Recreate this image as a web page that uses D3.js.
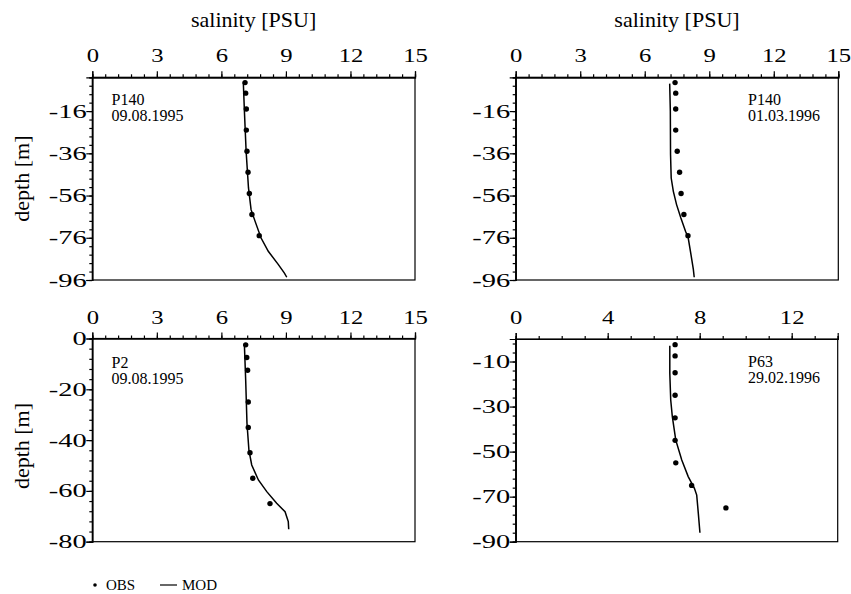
<!DOCTYPE html>
<html>
<head>
<meta charset="UTF-8">
<title>salinity profiles</title>
<style>
  body { margin: 0; background: #fff; }
  svg text { font-family: "Liberation Serif", "Times New Roman", serif; fill: #000; }
  .axis path, .axis line { stroke: #000; stroke-width: 1.2px; }
  .axis text { font-size: 19px; font-family: "Liberation Serif", "Times New Roman", serif; }
  .mod { fill: none; stroke: #000; stroke-width: 1.5px; }
</style>
</head>
<body>
<script src="https://d3js.org/d3.v7.min.js"></script>
<script>
// observed depths [m]
var obsDepth9 = [-2.5, -7.5, -15, -25, -35, -45, -55, -65, -75];
var obsDepthP2 = [-2.5, -7.5, -12.5, -25, -35, -45, -55, -65];

// P140 09.08.1995
var obsP140a = [7.10, 7.13, 7.16, 7.16, 7.19, 7.24, 7.30, 7.42, 7.76];
var modDepthP140a = [-2.5, -16, -35, -52.4, -62.7, -68, -76, -82.4, -88.7, -92.7, -94.7];
var modP140a = [7.02, 7.07, 7.15, 7.26, 7.38, 7.56, 7.84, 8.18, 8.65, 8.93, 9.04];

// P140 01.03.1996
var obsP140b = [7.41, 7.44, 7.44, 7.44, 7.51, 7.62, 7.69, 7.82, 8.01];
var modDepthP140b = [-3, -16, -36.7, -47.7, -54, -60.3, -66.6, -73, -76, -84, -91, -94.7];
var modP140b = [7.16, 7.19, 7.20, 7.23, 7.33, 7.48, 7.68, 7.90, 8.02, 8.15, 8.26, 8.30];

// P2 09.08.1995
var obsP2 = [7.13, 7.18, 7.22, 7.25, 7.25, 7.33, 7.46, 8.26];
var modDepthP2 = [-2.5, -16.4, -33.4, -44, -49.8, -55.7, -60.3, -64.9, -68.2, -72.1, -75.1];
var modP2 = [7.07, 7.13, 7.19, 7.28, 7.41, 7.72, 8.11, 8.57, 8.96, 9.11, 9.13];

// P63 29.02.1996
var obsP63 = [6.93, 6.93, 6.93, 6.93, 6.93, 6.93, 6.96, 7.65, 9.14];
var modDepthP63 = [-3, -15.2, -27.1, -34.5, -44.9, -53.7, -61.1, -66.3, -69.3, -77.4, -86];
var modP63 = [6.70, 6.70, 6.74, 6.81, 6.96, 7.22, 7.50, 7.77, 7.87, 7.94, 8.01];

// tick labels
var xTicks15 = [0, 3, 6, 9, 12, 15];
var xTicks14 = [0, 4, 8, 12];
var yTicks96 = [-96, -76, -56, -36, -16];
var yTicks80 = [-80, -60, -40, -20, 0];
var yTicks90 = [-90, -70, -50, -30, -10];

var svg = d3.select("body").append("svg")
    .attr("width", 851)
    .attr("height", 594);

var panels = [
  {x: 92.3, y: 77.3, w: 322.7, h: 202.7, xMax: 15, xMaj: xTicks15, xMin: 0.6, yMin: -96, yMaj: yTicks96,
   obs: obsP140a, obsD: obsDepth9, mod: modP140a, modD: modDepthP140a,
   lab: ["P140", "09.08.1995"], lx: 111.5, ly: 105},
  {x: 515.7, y: 77.3, w: 322.6, h: 202.7, xMax: 15, xMaj: xTicks15, xMin: 0.6, yMin: -96, yMaj: yTicks96,
   obs: obsP140b, obsD: obsDepth9, mod: modP140b, modD: modDepthP140b,
   lab: ["P140", "01.03.1996"], lx: 748, ly: 105},
  {x: 92.3, y: 338.5, w: 322.7, h: 203.2, xMax: 15, xMaj: xTicks15, xMin: 0.6, yMin: -80, yMaj: yTicks80,
   obs: obsP2, obsD: obsDepthP2, mod: modP2, modD: modDepthP2,
   lab: ["P2", "09.08.1995"], lx: 111.5, ly: 368},
  {x: 515.7, y: 339, w: 322, h: 202.7, xMax: 14, xMaj: xTicks14, xMin: 1, yMin: -90, yMaj: yTicks90,
   obs: obsP63, obsD: obsDepth9, mod: modP63, modD: modDepthP63,
   lab: ["P63", "29.02.1996"], lx: 748, ly: 367}
];

var fmt = function(d) { return String(d); };

panels.forEach(function(p) {
  var g = svg.append("g").attr("transform", "translate(" + p.x + "," + p.y + ")");

  var x = d3.scaleLinear().domain([0, p.xMax]).range([0, p.w]);
  var y = d3.scaleLinear().domain([p.yMin, 0]).range([p.h, 0]);

  // minor ticks
  g.append("g").attr("class", "axis")
      .call(d3.axisTop(x).tickValues(d3.range(0, p.xMax + 0.01, p.xMin)).tickSize(3).tickFormat(""));
  g.append("g").attr("class", "axis")
      .call(d3.axisLeft(y).tickValues(d3.range(p.yMin, 0.01, 4)).tickSize(3).tickFormat(""));

  // major ticks with labels (the original font is drawn wide)
  var xa = g.append("g").attr("class", "axis")
      .call(d3.axisTop(x).tickValues(p.xMaj).tickSize(6).tickPadding(9).tickFormat(fmt));
  xa.selectAll("text").attr("transform", "scale(1.3,1)");
  var ya = g.append("g").attr("class", "axis")
      .call(d3.axisLeft(y).tickValues(p.yMaj).tickSize(6).tickFormat(fmt));
  ya.selectAll("text").attr("x", -5.5 / 1.5).attr("transform", "scale(1.5,1)");

  g.selectAll(".axis").attr("font-family", null).attr("font-size", null);

  // frame
  g.append("rect")
      .attr("width", p.w).attr("height", p.h)
      .attr("fill", "none").attr("stroke", "#000").attr("stroke-width", 1.2);

  var modPts = p.mod.map(function(s, i) { return [s, p.modD[i]]; });
  var line = d3.line()
      .x(function(d) { return x(d[0]); })
      .y(function(d) { return y(d[1]); });
  g.append("path").attr("class", "mod").attr("d", line(modPts));

  g.selectAll("circle.obs").data(p.obs).enter().append("circle")
      .attr("class", "obs")
      .attr("cx", function(d) { return x(d); })
      .attr("cy", function(d, i) { return y(p.obsD[i]); })
      .attr("r", 2.7)
      .attr("fill", "#000");

  var t = svg.append("text")
      .attr("x", p.lx).attr("y", p.ly)
      .attr("font-size", 16);
  t.append("tspan").attr("x", p.lx).text(p.lab[0]);
  t.append("tspan").attr("x", p.lx).attr("dy", 16).text(p.lab[1]);
});

// axis titles
[253.6, 677].forEach(function(cx) {
  svg.append("text").attr("x", cx).attr("y", 27)
      .attr("text-anchor", "middle").attr("font-size", 22)
      .text("salinity [PSU]");
});
[178.6, 446].forEach(function(cy) {
  svg.append("text")
      .attr("transform", "translate(29," + cy + ") rotate(-90)")
      .attr("text-anchor", "middle").attr("font-size", 22)
      .text("depth [m]");
});

// legend
svg.append("circle").attr("cx", 95).attr("cy", 585).attr("r", 1.8).attr("fill", "#000");
svg.append("text").attr("x", 106).attr("y", 590).attr("font-size", 15).text("OBS");
svg.append("line").attr("x1", 160).attr("x2", 177).attr("y1", 585).attr("y2", 585)
    .attr("stroke", "#000").attr("stroke-width", 1.2);
svg.append("text").attr("x", 182).attr("y", 590).attr("font-size", 15).text("MOD");
</script>
</body>
</html>
